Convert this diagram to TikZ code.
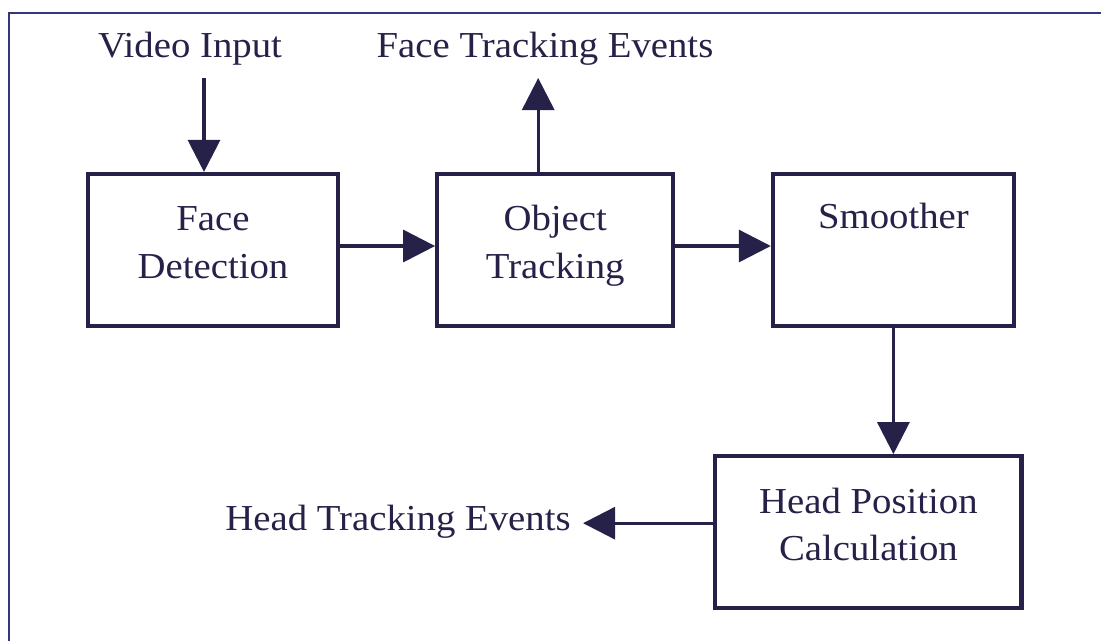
\documentclass[tikz,border=0pt]{standalone}
\usepackage{fontspec}
\setmainfont{Liberation Serif}[FakeStretch=1.06]
\usetikzlibrary{arrows.meta}
\definecolor{ink}{RGB}{38,33,72}
\definecolor{framecol}{RGB}{52,52,128}

\begin{document}
\begin{tikzpicture}[x=0.01cm, y=-0.01cm, node distance=3.4cm,
  >={Triangle[length=0.32cm, width=0.32cm]}]
 \tikzstyle{every node}=[text=ink, font=\fontsize{10.4}{13.6}\selectfont]
 \tikzstyle{block}=[draw=ink, line width=1.15pt, align=center, minimum height=1.52cm]
 \tikzstyle{arr}=[->, draw=ink, line width=0.9pt]
 \useasboundingbox (0,0) rectangle (1101,641);
 \draw[framecol, line width=0.6pt] (9,641) -- (9,13) -- (1101,13);

 \node[block, minimum width=2.49cm] (fd) at (213,250) {Face\\Detection\\[-0.32cm]};
 \node[block, minimum width=2.36cm] (ot) [right of=fd, xshift=0.02cm] {Object\\Tracking\\[-0.32cm]};
 \node[block, minimum width=2.41cm, minimum height=0pt, inner ysep=0.3cm,
   text height=0.24cm, text depth=0.68cm] (sm) [right of=ot, xshift=-0.02cm] {Smoother};
 \node[block, minimum width=3.06cm] (hp) [below of=sm, node distance=2.82cm, xshift=-0.25cm]
   {Head Position\\Calculation\\[-0.32cm]};

 \node (vin) at (190,49) {Video Input};
 \node (fte) at (545,49) {Face Tracking Events};
 \node (hte) at (398,522) {Head Tracking Events};

 \coordinate (vin-end) at ([xshift=-0.09cm]fd.north);
 \coordinate (fte-start) at ([xshift=-0.17cm]ot.north);
 \coordinate (hte-start) at ([yshift=0.09cm]hp.west);

 \draw[arr] (vin.south -| vin-end) -- (vin-end);
 \draw[arr] (fte-start) -- (fte-start |- vin.south);
 \draw[arr] ([yshift=0.04cm]fd.east) -- ([yshift=0.04cm]fd.east -| ot.west);
 \draw[arr] ([yshift=0.04cm]ot.east) -- ([yshift=0.04cm]ot.east -| sm.west);
 \draw[arr] (sm.south) -- (sm.south |- hp.north);
 \draw[arr] (hte-start) -- (hte-start -| hte.east);
\end{tikzpicture}
\end{document}
